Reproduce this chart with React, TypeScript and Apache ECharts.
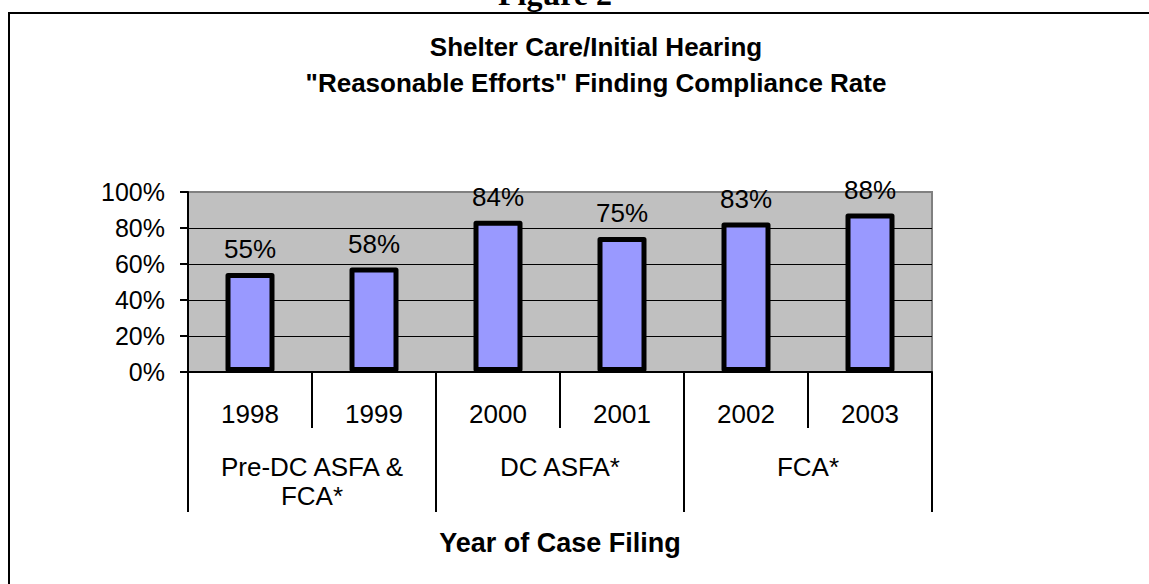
import React, { useEffect, useRef } from "react";
import * as echarts from "echarts";

const years = ["1998", "1999", "2000", "2001", "2002", "2003"];
const groups = ["Pre-DC ASFA &\nFCA*", "DC ASFA*", "FCA*"];
const rates = [55, 58, 84, 75, 83, 88];
const yTicks = { min: 0, max: 100, interval: 20 };
const titleLines = ["Shelter Care/Initial Hearing", "\"Reasonable Efforts\" Finding Compliance Rate"];
const figureLabel = "Figure 2";
const xAxisTitle = "Year of Case Filing";

const SANS = '"Liberation Sans", Arial, sans-serif';
const SERIF = '"Liberation Serif", "Times New Roman", serif';

export default function App() {
  const ref = useRef<HTMLDivElement>(null);
  useEffect(() => {
    document.body.style.margin = "0";
    if (!ref.current) return;
    const chart = echarts.init(ref.current, undefined, { renderer: "svg" });
    chart.setOption({
      animation: false,
      backgroundColor: "#ffffff",
      graphic: [
        {
          type: "rect",
          silent: true,
          z: 0,
          shape: { x: 9, y: 13, width: 1400, height: 900 },
          style: { fill: "none", stroke: "#000", lineWidth: 2 },
        },
        {
          type: "text",
          x: 555,
          y: -6,
          style: {
            text: figureLabel,
            fontFamily: SERIF,
            fontWeight: "bold",
            fontSize: 32,
            align: "center",
            verticalAlign: "middle",
            fill: "#000",
          },
        },
        {
          type: "text",
          x: 596,
          y: 47,
          style: {
            text: titleLines[0],
            fontFamily: SANS,
            fontWeight: "bold",
            fontSize: 26,
            align: "center",
            verticalAlign: "middle",
            fill: "#000",
          },
        },
        {
          type: "text",
          x: 596,
          y: 83,
          style: {
            text: titleLines[1],
            fontFamily: SANS,
            fontWeight: "bold",
            fontSize: 26,
            align: "center",
            verticalAlign: "middle",
            fill: "#000",
          },
        },
      ],
      grid: {
        left: 188,
        right: 217,
        top: 192,
        bottom: 212,
        show: true,
        backgroundColor: "#C0C0C0",
        borderColor: "#808080",
        borderWidth: 2,
      },
      xAxis: [
        {
          type: "category",
          data: years,
          position: "bottom",
          axisLine: { show: true, lineStyle: { color: "#000", width: 2 } },
          axisTick: { show: true, interval: 0, length: 56, lineStyle: { color: "#000", width: 2 } },
          axisLabel: {
            interval: 0,
            margin: 29,
            fontFamily: SANS,
            fontSize: 26,
            color: "#000",
          },
          splitLine: { show: false },
        },
        {
          type: "category",
          data: groups,
          position: "bottom",
          axisLine: { show: false },
          axisTick: { show: true, interval: 0, length: 140, lineStyle: { color: "#000", width: 2 } },
          axisLabel: {
            interval: 0,
            margin: 80,
            fontFamily: SANS,
            fontSize: 26,
            lineHeight: 29,
            color: "#000",
          },
          name: xAxisTitle,
          nameLocation: "middle",
          nameGap: 157,
          nameTextStyle: {
            fontFamily: SANS,
            fontSize: 27,
            fontWeight: "bold",
            color: "#000",
          },
          splitLine: { show: false },
        },
      ],
      yAxis: {
        type: "value",
        min: yTicks.min,
        max: yTicks.max,
        interval: yTicks.interval,
        axisLine: { show: true, lineStyle: { color: "#000", width: 2 } },
        axisTick: { show: true, length: 8, lineStyle: { color: "#000", width: 2 } },
        axisLabel: {
          formatter: "{value}%",
          margin: 23,
          fontFamily: SANS,
          fontSize: 25,
          color: "#000",
        },
        splitLine: { show: true, showMaxLine: false, lineStyle: { color: "#000", width: 1 } },
      },
      series: [
        {
          type: "bar",
          xAxisIndex: 0,
          data: rates,
          barWidth: 49,
          itemStyle: {
            color: "#9999FF",
            borderColor: "#000",
            borderWidth: 5,
            borderJoin: "round",
          },
          label: {
            show: true,
            position: "top",
            distance: 11,
            formatter: "{c}%",
            fontFamily: SANS,
            fontSize: 26,
            color: "#000",
          },
        },
      ],
    });
    return () => chart.dispose();
  }, []);
  return (
    <div
      ref={ref}
      style={{ position: "absolute", left: 0, top: 0, width: 1149, height: 584 }}
    />
  );
}
